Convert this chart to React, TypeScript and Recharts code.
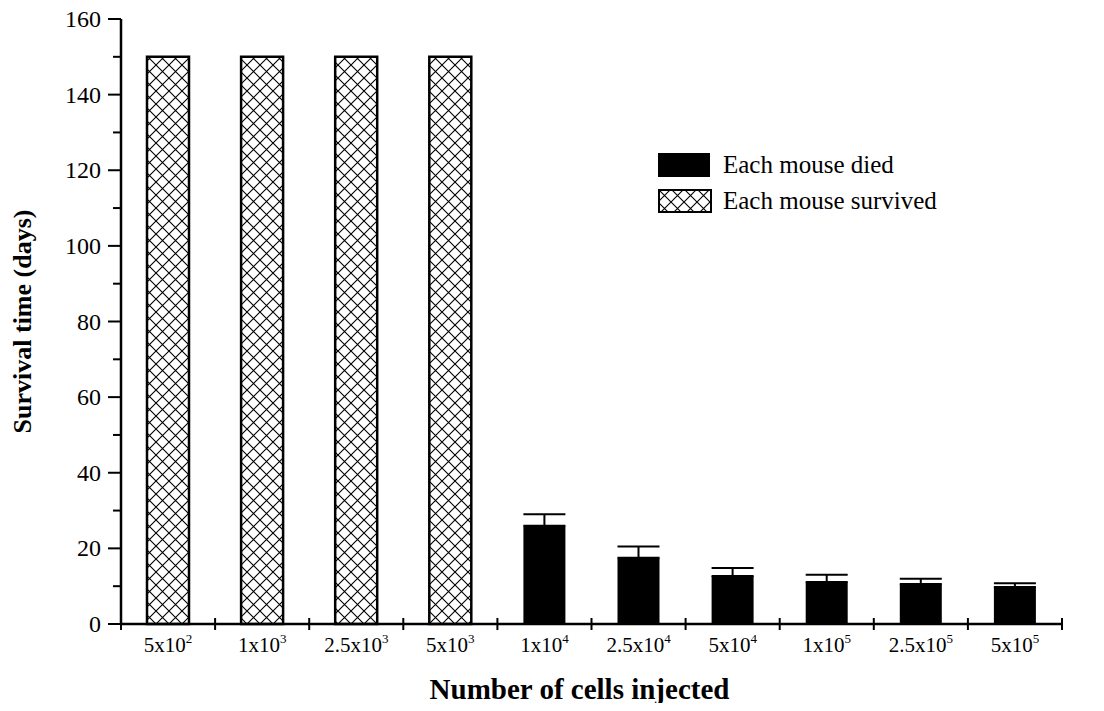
import React from "react";
import { BarChart, Bar, XAxis, YAxis, ErrorBar } from "recharts";

const categories = [
  "5x10^2",
  "1x10^3",
  "2.5x10^3",
  "5x10^3",
  "1x10^4",
  "2.5x10^4",
  "5x10^4",
  "1x10^5",
  "2.5x10^5",
  "5x10^5",
];
const survived = [150, 150, 150, 150, null, null, null, null, null, null];
const died = [null, null, null, null, 26, 17.5, 12.7, 11.1, 10.6, 9.8];
const diedErr = [null, null, null, null, 3, 3, 2.1, 1.9, 1.4, 1];
const yTicks = [0, 10, 20, 30, 40, 50, 60, 70, 80, 90, 100, 110, 120, 130, 140, 150, 160];
const legendItems = ["Each mouse died", "Each mouse survived"];

const data = categories.map((name, i) => ({
  name,
  survived: survived[i],
  died: died[i],
  err: diedErr[i] == null ? null : [0, diedErr[i]],
}));

const FONT = "'Liberation Serif', 'Times New Roman', serif";
const W = 1104;
const H = 711;
const M = { top: 19, right: 42, left: 0, bottom: 0 };
const Y_W = 121;
const STEP = (W - M.right - Y_W) / categories.length;

function XTick(props: any) {
  const { x, y, payload, index } = props;
  const [base, exp] = String(payload.value).split("^");
  const last = index === categories.length - 1;
  return (
    <g>
      <line x1={x - STEP / 2} x2={x - STEP / 2} y1={y - 6} y2={y + 6} stroke="#000" strokeWidth={2} />
      {last && (
        <line x1={x + STEP / 2} x2={x + STEP / 2} y1={y - 6} y2={y + 6} stroke="#000" strokeWidth={2} />
      )}
      <text x={x} y={y + 28} textAnchor="middle" fontFamily={FONT} fontSize={21} fill="#000">
        {base}
        <tspan dy={-9} fontSize={13}>{exp}</tspan>
      </text>
    </g>
  );
}

function YTick(props: any) {
  const { x, y, payload } = props;
  const major = payload.value % 20 === 0;
  return (
    <g>
      <line x1={x - (major ? 13 : 8)} x2={x} y1={y} y2={y} stroke="#000" strokeWidth={2} />
      {major && (
        <text x={x - 20} y={y + 8} textAnchor="end" fontFamily={FONT} fontSize={24} fill="#000">
          {payload.value}
        </text>
      )}
    </g>
  );
}

function LegendBox() {
  return (
    <div
      style={{
        position: "absolute",
        left: 658,
        top: 153,
        fontFamily: FONT,
        fontSize: 25,
        color: "#000",
        lineHeight: "24px",
      }}
    >
      <div style={{ display: "flex", alignItems: "center", height: 24, marginBottom: 12 }}>
        <svg width={54} height={24}>
          <rect x={0} y={0} width={52} height={24} fill="#000" />
        </svg>
        <span style={{ marginLeft: 11 }}>{legendItems[0]}</span>
      </div>
      <div style={{ display: "flex", alignItems: "center", height: 24 }}>
        <svg width={54} height={24}>
          <rect x={1} y={1} width={52} height={22} fill="url(#xhatch)" stroke="#000" strokeWidth={2} />
        </svg>
        <span style={{ marginLeft: 11 }}>{legendItems[1]}</span>
      </div>
    </div>
  );
}

export default function App() {
  return (
    <div style={{ width: W, height: H, position: "relative", margin: -8, background: "#fff" }}>
      <svg width={0} height={0} style={{ position: "absolute" }}>
        <defs>
          <pattern id="xhatch" patternUnits="userSpaceOnUse" width={13} height={13}>
            <rect width={13} height={13} fill="#fff" />
            <path d="M0,0 L13,13 M13,0 L0,13" stroke="#000" strokeWidth={1.1} />
          </pattern>
        </defs>
      </svg>
      <BarChart width={W} height={H} data={data} margin={M} barSize={42}>
        <XAxis
          dataKey="name"
          height={87}
          tickSize={0}
          tickMargin={0}
          tickLine={false}
          axisLine={{ stroke: "#000", strokeWidth: 2.5 }}
          tick={<XTick />}
          interval={0}
          label={{
            value: "Number of cells injected",
            position: "insideBottom",
            offset: 12,
            dx: -12,
            style: { fontFamily: FONT, fontSize: 29, fontWeight: "bold", fill: "#000" },
          }}
        />
        <YAxis
          width={Y_W}
          domain={[0, 160]}
          ticks={yTicks}
          interval={0}
          tickSize={0}
          tickMargin={0}
          tickLine={false}
          axisLine={{ stroke: "#000", strokeWidth: 2.5 }}
          tick={<YTick />}
          label={{
            value: "Survival time (days)",
            angle: -90,
            position: "insideLeft",
            offset: 22,
            style: { textAnchor: "middle", fontFamily: FONT, fontSize: 26, fontWeight: "bold", fill: "#000" },
          }}
        />
        <Bar
          dataKey="survived"
          stackId="a"
          fill="url(#xhatch)"
          stroke="#000"
          strokeWidth={2.5}
          isAnimationActive={false}
        />
        <Bar dataKey="died" stackId="a" fill="#000" isAnimationActive={false}>
          <ErrorBar dataKey="err" width={21} stroke="#000" strokeWidth={2} direction="y" />
        </Bar>
      </BarChart>
      <LegendBox />
    </div>
  );
}
